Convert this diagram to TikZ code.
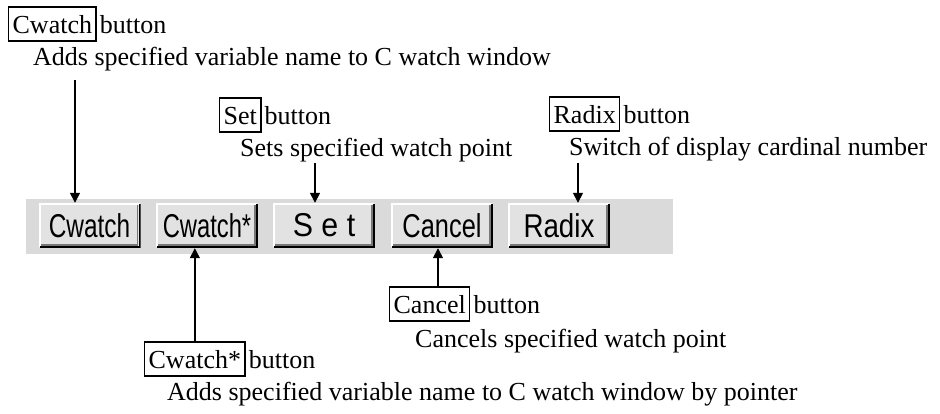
\documentclass[tikz,border=0pt]{standalone}
\usepackage{fontspec}
\usepackage{graphicx}
\setmainfont{Liberation Serif}
\newfontfamily\btnfont{Liberation Sans}
\usetikzlibrary{arrows.meta,calc}
\definecolor{bandgray}{RGB}{218,218,218}
\definecolor{btnface}{RGB}{226,226,226}
\definecolor{btnshadow}{RGB}{120,120,120}
\tikzset{
  lbl/.style={font=\fontsize{26}{30}\selectfont, inner sep=0pt, anchor=base west},
  keybox/.style={draw, line width=1.3pt, font=\fontsize{26}{30}\selectfont,
    inner xsep=4pt, inner ysep=0pt, text height=26pt, text depth=8pt, anchor=base west},
  arr/.style={line width=1.5pt, -{Triangle[length=10pt,width=10pt]}},
  btn/.style={minimum width=102pt, minimum height=45pt, inner sep=0pt, fill=btnface,
    font=\btnfont\fontsize{33}{36}\selectfont,
    path picture={
      \draw[white, line width=2pt]
        ([xshift=1pt,yshift=1pt]path picture bounding box.south west) --
        ([xshift=1pt,yshift=-1pt]path picture bounding box.north west) --
        ([xshift=-1pt,yshift=-1pt]path picture bounding box.north east);
      \draw[btnshadow, line width=1.5pt]
        ([xshift=-3pt,yshift=-2pt]path picture bounding box.north east) --
        ([xshift=-3pt,yshift=3pt]path picture bounding box.south east) --
        ([xshift=2pt,yshift=3pt]path picture bounding box.south west);
      \draw[black, line width=2pt]
        ([xshift=-1pt,yshift=-1pt]path picture bounding box.north east) --
        ([xshift=-1pt,yshift=1pt]path picture bounding box.south east) --
        ([xshift=1pt,yshift=1pt]path picture bounding box.south west);
    }}
}
\begin{document}
\begin{tikzpicture}[x=1pt,y=-1pt]
\useasboundingbox (0,0) rectangle (940,413);
% toolbar
\node[fill=bandgray, minimum width=647pt, minimum height=55pt, inner sep=0pt] (bar) at (349.5,226.5) {};
\node[btn] (bCw)  at (89.5,225.5) {\scalebox{0.74}[1]{Cwatch}};
\node[btn] (bCws) at (207,225.5)  {\scalebox{0.72}[1]{Cwatch*}};
\node[btn] (bSet) at (324,225.5)  {\scalebox{0.92}[1]{S e t}};
\node[btn] (bCan) at (442,225.5)  {\scalebox{0.77}[1]{Cancel}};
\node[btn] (bRad) at (559,225.5)  {\scalebox{0.84}[1]{Radix}};
% Cwatch label
\node[keybox] (kCw) at (8,33) {Cwatch};
\node[lbl] (tCw) at ([xshift=3pt]kCw.base east) {button};
\node[lbl] (dCw) at (33,65) {Adds specified variable name to C watch window};
% Set label
\node[keybox] (kSet) at (219,124) {Set};
\node[lbl] (tSet) at ([xshift=3pt]kSet.base east) {button};
\node[lbl] (dSet) at (240,156) {Sets specified watch point};
% Radix label
\node[keybox] (kRad) at (549,123) {Radix};
\node[lbl] (tRad) at ([xshift=3pt]kRad.base east) {button};
\node[lbl] (dRad) at (569,155) {Switch of display cardinal number};
% Cancel label
\node[keybox] (kCan) at (389,313) {Cancel};
\node[lbl] (tCan) at ([xshift=3pt]kCan.base east) {button};
\node[lbl] (dCan) at (415,347) {Cancels specified watch point};
% Cwatch* label
\node[keybox] (kCws) at (144,368) {Cwatch*};
\node[lbl] (tCws) at ([xshift=3pt]kCws.base east) {button};
\node[lbl] (dCws) at (167,400) {Adds specified variable name to C watch window by pointer};
% arrows
\coordinate (aCw) at (75,80);
\coordinate (aSet) at (315,163);
\coordinate (aRad) at (578,163);
\coordinate (aCan) at (438,0);
\draw[arr] (aCw) -- (aCw |- bCw.north);
\draw[arr] (aSet) -- (aSet |- bSet.north);
\draw[arr] (aRad) -- (aRad |- bRad.north);
\draw[arr] (kCws.north) -- (kCws.north |- bCws.south);
\draw[arr] (kCan.north -| aCan) -- (aCan |- bCan.south);
\end{tikzpicture}
\end{document}
